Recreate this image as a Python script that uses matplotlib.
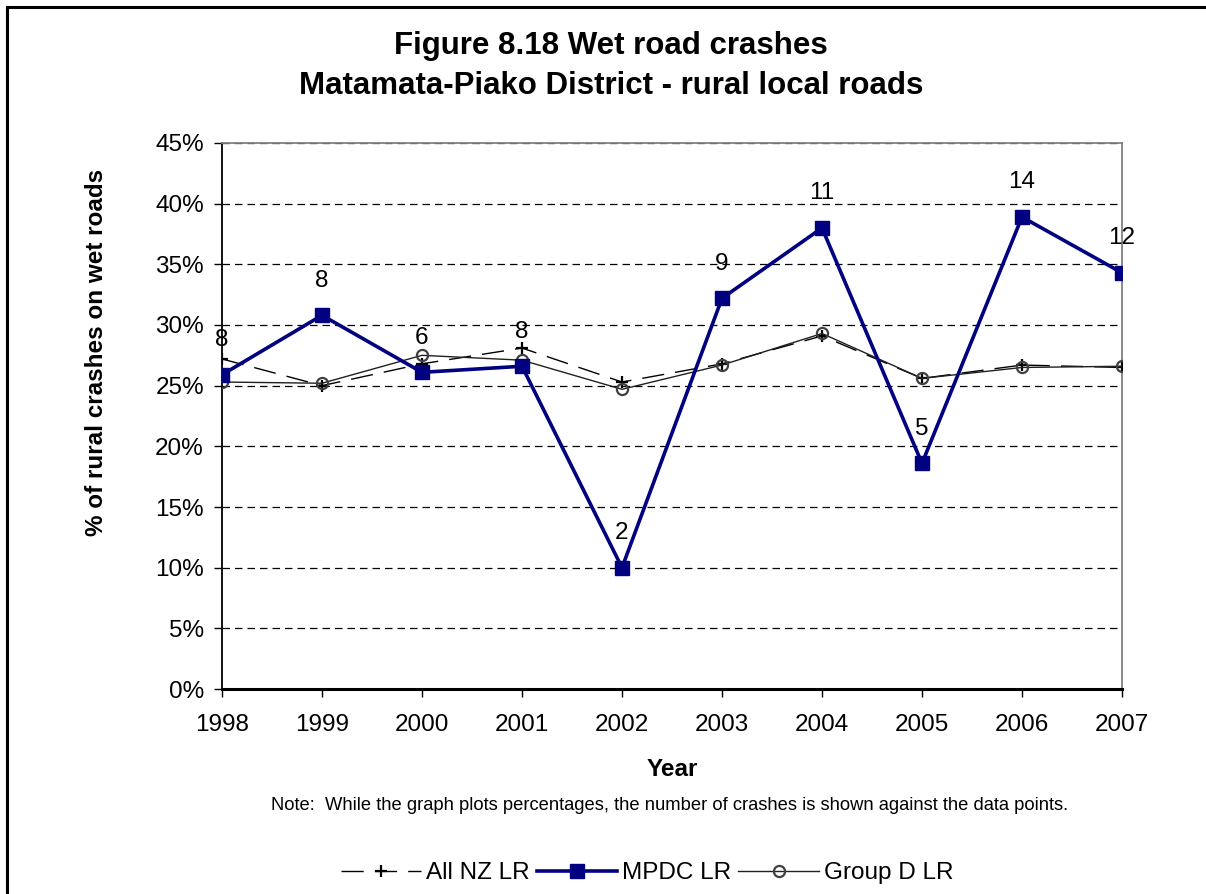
import matplotlib

matplotlib.use("Agg")

import matplotlib.pyplot as plt
from matplotlib.patches import Rectangle
from matplotlib.ticker import FuncFormatter, MultipleLocator

plt.rcParams["font.family"] = ["Liberation Sans", "DejaVu Sans"]

years = ["1998", "1999", "2000", "2001", "2002", "2003", "2004", "2005", "2006", "2007"]
all_nz = [27.2, 25.0, 26.8, 28.1, 25.3, 26.8, 29.1, 25.6, 26.7, 26.5]
mpdc = [25.9, 30.8, 26.1, 26.6, 10.0, 32.2, 38.0, 18.6, 38.9, 34.3]
group_d = [25.3, 25.2, 27.5, 27.1, 24.7, 26.7, 29.3, 25.6, 26.5, 26.6]
mpdc_counts = [8, 8, 6, 8, 2, 9, 11, 5, 14, 12]

W, H = 1206, 894
fig = plt.figure(figsize=(W / 100, H / 100), dpi=100)
ax = fig.add_axes([222 / W, 1 - 689 / H, 900 / W, 546 / H])

x = list(range(len(years)))
navy = "#000080"

ax.plot(x, all_nz, color="black", lw=1.0, linestyle=(0, (16, 8)),
        marker="+", ms=9, mew=1.6, mec="black", label="All NZ LR", zorder=3)
ax.plot(x, mpdc, color=navy, lw=2.6, marker="s", ms=9.5, mfc=navy, mec=navy,
        label="MPDC LR", zorder=4)
ax.plot(x, group_d, color="#202020", lw=1.0, marker="o", ms=8, mfc="none",
        mec="#404040", mew=1.6, label="Group D LR", zorder=3)

# crash counts shown above each MPDC point
for xi, yi, n in zip(x, mpdc, mpdc_counts):
    ax.annotate(str(n), (xi, yi), xytext=(0, 25), textcoords="offset points",
                ha="center", va="center", fontsize=17.5, zorder=5)

ax.set_xlim(0, len(years) - 1)
ax.set_ylim(0, 45)
ax.set_xticks(x)
ax.set_xticklabels(years)
ax.yaxis.set_major_locator(MultipleLocator(5))
ax.yaxis.set_major_formatter(FuncFormatter(lambda v, p: f"{v:.0f}%"))
ax.tick_params(axis="both", labelsize=17.5, direction="out", length=6, width=1,
               colors="black")
ax.tick_params(axis="y", pad=7)
ax.tick_params(axis="x", pad=12)

ax.yaxis.grid(True, color="black", linestyle=(0, (6, 4)), lw=0.9)
ax.set_axisbelow(True)

for side in ("top", "right"):
    ax.spines[side].set_color("#808080")
    ax.spines[side].set_linewidth(1.3)
ax.spines["left"].set_color("black")
ax.spines["left"].set_linewidth(1.3)
ax.spines["bottom"].set_color("black")
ax.spines["bottom"].set_linewidth(2.2)

fig.text(611 / W, 1 - 66 / H,
         "Figure 8.18 Wet road crashes\nMatamata-Piako District - rural local roads",
         ha="center", va="center", fontsize=22.5, fontweight="bold", linespacing=1.45)
fig.text(97 / W, 1 - 352 / H, "% of rural crashes on wet roads", rotation=90,
         ha="center", va="center", fontsize=17.5, fontweight="bold")
fig.text(672 / W, 1 - 770 / H, "Year", ha="center", va="center",
         fontsize=17.5, fontweight="bold")
fig.text(670 / W, 1 - 806 / H,
         "Note:  While the graph plots percentages, the number of crashes is shown against the data points.",
         ha="center", va="center", fontsize=13.2)

fig.legend(loc="center", bbox_to_anchor=(647 / W, 1 - 873 / H), ncol=3,
           frameon=False, fontsize=17.5, handlelength=3.3, handletextpad=0.2,
           columnspacing=0.3)

# outer chart border
fig.patches.append(Rectangle((7 / W, -0.1), 1.2, (H - 7) / H + 0.1,
                             transform=fig.transFigure, fill=False,
                             edgecolor="black", lw=2.2))

fig.savefig("out.png", dpi=100, facecolor="white")
